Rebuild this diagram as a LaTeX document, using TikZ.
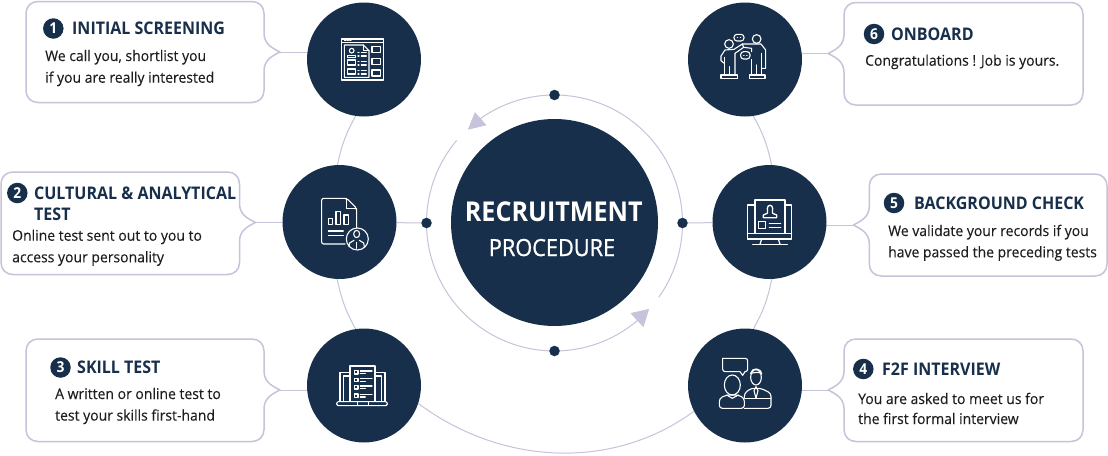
\documentclass[tikz,border=0pt]{standalone}
\usepackage{fontspec}
\setmainfont[FakeStretch=0.92]{Open Sans}
\newfontfamily\bodyf[FakeStretch=0.95,FakeBold=0.15]{Open Sans}
\newfontfamily\procf[FakeStretch=0.92,FakeBold=0.9]{Open Sans}
\usetikzlibrary{backgrounds,calc}
\definecolor{navy}{HTML}{182F4B}
\definecolor{lav}{HTML}{C6C3DA}
\definecolor{ink}{HTML}{1E1E1E}
\tikzset{
  disc/.style={circle,fill=navy,draw=none,inner sep=0pt,minimum size=#1},
  dotn/.style={circle,fill=navy,inner sep=0pt,minimum size=10.5pt},
  link/.style={draw=lav,line width=1pt},
  boxline/.style={draw=lav,line width=1.5pt,fill=white,line join=round},
  ico/.style={draw=white,line width=1.1pt,line join=round,line cap=round},
  icoscope/.style={shift={#1},x=0.3333pt,y=-0.3333pt,ico},
  badge/.style={circle,fill=navy,inner sep=0pt,minimum size=20.5pt,text=white,font=\fontsize{15}{15}\selectfont\bfseries},
  ttl/.style={anchor=base west,inner sep=0pt,text=navy,font=\fontsize{17.4}{17.4}\selectfont\bfseries},
  txt/.style={anchor=base west,inner sep=0pt,text=ink,font=\bodyf\fontsize{14.7}{14.7}\selectfont},
  tipshape/.style={fill=lav,draw=lav,line width=.5pt,line join=round}
}
\newcommand\calloutR[5]{%
  \draw[boxline] (#1+12,#2) -- (#3-12,#2) .. controls (#3-5,#2) and (#3,#2+5) .. (#3,#2+12) -- (#3,#5-19)
    .. controls (#3,#5-8) and (#3+8,#5-4) .. (#3+16,#5)
    .. controls (#3+8,#5+4) and (#3,#5+8) .. (#3,#5+19) -- (#3,#4-12)
    .. controls (#3,#4-5) and (#3-5,#4) .. (#3-12,#4) -- (#1+12,#4)
    .. controls (#1+5,#4) and (#1,#4-5) .. (#1,#4-12)
    -- (#1,#2+12) .. controls (#1,#2+5) and (#1+5,#2) .. cycle;}
\newcommand\calloutL[5]{%
  \draw[boxline] (#3-12,#2) -- (#1+12,#2) .. controls (#1+5,#2) and (#1,#2+5) .. (#1,#2+12) -- (#1,#5-19)
    .. controls (#1,#5-8) and (#1-8,#5-4) .. (#1-16,#5)
    .. controls (#1-8,#5+4) and (#1,#5+8) .. (#1,#5+19) -- (#1,#4-12)
    .. controls (#1,#4-5) and (#1+5,#4) .. (#1+12,#4) -- (#3-12,#4)
    .. controls (#3-5,#4) and (#3,#4-5) .. (#3,#4-12)
    -- (#3,#2+12) .. controls (#3,#2+5) and (#3-5,#2) .. cycle;}
\begin{document}
\begin{tikzpicture}[x=1pt,y=-1pt]
\useasboundingbox (0,0) rectangle (1108,455);
% discs
\node[disc=114pt] (c1) at (364,59.5) {};
\node[disc=114pt] (c2) at (339.5,222) {};
\node[disc=114pt] (c3) at (364,385.5) {};
\node[disc=114pt] (c4) at (745,385.5) {};
\node[disc=114pt] (c5) at (769.5,222) {};
\node[disc=114pt] (c6) at (745,59.5) {};
\node[disc=207pt] (ctr) at (554.5,222.5) {};
\coordinate (rc) at (554.5,223);
\node[dotn] (dt) at (554.5,95) {};
\node[dotn] (db) at (554.5,351) {};
\node[dotn] (dl) at (426.5,223) {};
\node[dotn] (dr) at (682.5,223) {};
% callout tips
\coordinate (t1) at (280,52);
\coordinate (t2) at (255.5,222.5);
\coordinate (t3) at (280,390);
\coordinate (t4) at (828,390);
\coordinate (t5) at (853.3,225);
\coordinate (t6) at (828,53.5);
\coordinate (ba) at (419,404);
\coordinate (bb) at (693,412);
% ends of the outer arcs, hidden under the discs
\coordinate (a1) at (356.7,114);
\coordinate (a2) at (336.8,168);
\coordinate (a3) at (336.8,277);
\coordinate (a4) at (356.7,331);
\coordinate (a5) at (752.3,114);
\coordinate (a6) at (772.2,168);
\coordinate (a7) at (772.2,277);
\coordinate (a8) at (752.3,331);
\begin{scope}[on background layer]
  \fill[white] (0,0) rectangle (1108,455);
  \draw[link] (a1) to[bend right=9] (a2);
  \draw[link] (a3) to[bend right=9] (a4);
  \draw[link] (a5) to[bend left=9] (a6);
  \draw[link] (a7) to[bend left=9] (a8);
  \draw[link] (c3) -- (ba) .. controls (503,466) and (613,470) .. (bb) -- (c4);
  \draw[link] (t1) -- (t1 -| c1);
  \draw[link] (t2) -- (t2 -| c2);
  \draw[link] (t3) -- (t3 -| c3);
  \draw[link] (t4) -- (t4 -| c4);
  \draw[link] (t5) -- (t5 -| c5);
  \draw[link] (t6) -- (t6 -| c6);
  \draw[link] (dl) -- (c2);
  \draw[link] (dr) -- (c5);
  \draw[link] ($(rc)+(220.1:128)$) arc[start angle=220.1,end angle=49.6,radius=128];
  \draw[link] ($(rc)+(234.6:128)$) arc[start angle=234.6,end angle=395.4,radius=128];
\end{scope}
% arrowheads
\fill[tipshape] (468.3,129.3) -- (475,112.7) -- (486,125) -- cycle;
\fill[tipshape] (648.7,309.3) -- (631,313.3) -- (643.3,326.7) -- cycle;
% centre text
\node[inner sep=0pt,text=white,anchor=base,font=\fontsize{27.3}{27.3}\selectfont\bfseries] (rt) at (553.8,221) {RECRUITMENT};
\node[inner sep=0pt,text=white,anchor=base,font=\procf\fontsize{23.6}{23.6}\selectfont] (pt) at (552,256) {PROCEDURE};
% callouts
\calloutR{26}{1.5}{264}{102.5}{52}
\calloutR{1}{172}{239.5}{274.5}{222.5}
\calloutR{26}{339}{264}{441.5}{390}
\calloutL{844}{339}{1083}{441.5}{390}
\calloutL{869.3}{174}{1107}{276}{225}
\calloutL{844}{2.5}{1083}{105}{53.5}
% texts
\node[badge] (b1) at (53.3,28.5) {1};
\node[ttl] (h1) at (72,34) {INITIAL SCREENING};
\node[txt] (a1t) at (45,61) {We call you, shortlist you};
\node[txt] (e1) at (45,82.7) {if you are really interested};
\node[badge] (b2) at (17.3,193) {2};
\node[ttl] (h2) at (34,199) {CULTURAL \& ANALYTICAL};
\node[ttl] (k2) at (34,220) {TEST};
\node[txt] (a2t) at (12,240.7) {Online test sent out to you to};
\node[txt] (e2) at (12,262.3) {access your personality};
\node[badge] (b3) at (60.5,367.5) {3};
\node[ttl] (h3) at (77,373) {SKILL TEST};
\node[txt] (a3t) at (55,399) {A written or online test to};
\node[txt] (e3) at (55,420.6) {test your skills first-hand};
\node[badge] (b4) at (863.3,369) {4};
\node[ttl] (h4) at (882,375.5) {F2F INTERVIEW};
\node[txt] (a4t) at (858,404) {You are asked to meet us for};
\node[txt] (e4) at (858,424) {the first formal interview};
\node[badge] (b5) at (894,203) {5};
\node[ttl] (h5) at (914,209) {BACKGROUND CHECK};
\node[txt] (a5t) at (888,236) {We validate your records if you};
\node[txt] (e5) at (888,257.3) {have passed the preceding tests};
\node[badge] (b6) at (874,34) {6};
\node[ttl] (h6) at (891,40) {ONBOARD};
\node[txt] (a6t) at (865,65.7) {Congratulations ! Job is yours.};
% icon 1
\begin{scope}[icoscope={(300,0)}]
  \draw (125,117) rectangle (250,240);
  \draw (125,128) -- (250,128);
  \draw (133,122.5) -- (137,122.5) (141,122.5) -- (145,122.5) (149,122.5) -- (153,122.5);
  \draw (133,135) -- (190,135) -- (207,152) -- (207,232) -- (133,232) -- cycle;
  \draw (190,135) -- (190,152) -- (207,152);
  \draw (155,152) circle[radius=7];
  \draw (143,172) -- (143,166) -- (167,166) -- (167,172) -- cycle;
  \draw (143,180) rectangle (167,195);
  \draw (143,207) rectangle (167,222);
  \foreach \yy in {157,168,185,195,212,222} {\draw (184,\yy) -- (199,\yy); \draw (174,\yy) -- (177,\yy);}
  \draw (216,140) rectangle (241,157);
  \draw (216,175) rectangle (241,193);
  \draw (216,210) rectangle (241,228);
\end{scope}
% icon 2
\begin{scope}[icoscope={(275,165)}]
  \draw[rounded corners=2pt] (210,237) -- (140,237) -- (140,100) -- (215,100) -- (245,130) -- (245,188);
  \draw (215,100) -- (215,130) -- (245,130);
  \draw (160,160) rectangle (172,178);
  \draw (183,140) rectangle (196,178);
  \draw (207,150) rectangle (220,178);
  \draw (160,198) -- (205,198) (160,212) -- (205,212);
  \draw (247,222) circle[radius=33];
  \draw (245,207) ellipse[x radius=9,y radius=11];
  \draw (222,245) -- (224,234) -- (237,226) (253,226) -- (266,234) -- (268,245);
  \draw (245,232) -- (245,250);
\end{scope}
% icon 3
\begin{scope}[icoscope={(300,330)}]
  \draw[rounded corners=1.5pt] (110,215) rectangle (262,227);
  \draw (172,215) -- (172,227) (205,215) -- (205,227);
  \draw (120,215) -- (120,128) -- (150,128) (225,128) -- (255,128) -- (255,215);
  \draw (130,215) -- (130,138) -- (150,138) (225,138) -- (245,138) -- (245,215);
  \draw (150,108) rectangle (225,215);
  \foreach \yy in {127,150,172,197} {
    \draw (163,\yy-5) rectangle (174,\yy+5);
    \draw (181,\yy-4) -- (216,\yy-4) (181,\yy+4) -- (196,\yy+4);}
\end{scope}
% icon 4
\begin{scope}[icoscope={(685,330)}]
  \draw[rounded corners=2.5pt] (113,85) -- (188,85) -- (188,125) -- (180,125);
  \draw (180,125) -- (173,136) -- (165,125);
  \draw[rounded corners=2.5pt] (165,125) -- (113,125) -- (113,85);
  \draw (142,165) ellipse[x radius=24,y radius=30];
  \draw[rounded corners=3pt] (103,235) -- (103,205) -- (125,195) -- (160,195) -- (178,205) -- (178,235) -- cycle;
  \draw (125,195) -- (142,205) -- (160,195);
  \draw (213,142) ellipse[x radius=16,y radius=23];
  \draw (197,130) .. controls (200,112) and (228,112) .. (230,132);
  \draw (197,130) .. controls (210,128) and (222,124) .. (230,132);
  \draw[rounded corners=3pt] (178,205) -- (178,190) -- (198,175) -- (228,175) -- (258,190) -- (258,235) -- (178,235);
  \draw (180,205) -- (258,205);
  \draw (213,170) -- (207,182) -- (213,205) -- (219,182) -- cycle;
\end{scope}
% icon 5
\begin{scope}[icoscope={(710,165)},line width=1.3pt]
  \draw (112,120) rectangle (245,222);
  \fill[navy] (135,105) rectangle (225,205);
  \draw (135,205) -- (135,105) -- (225,105) -- (225,205);
  \draw (112,205) -- (245,205);
  \draw (155,222) -- (150,238) (205,222) -- (210,238);
  \draw (128,238) -- (232,238);
  \draw (172,130) .. controls (172,118) and (188,118) .. (188,130) .. controls (188,138) and (186,142) .. (188,145) -- (200,150) -- (200,158) -- (160,158) -- (160,150) -- (172,145) .. controls (174,142) and (172,138) .. (172,130);
  \draw (145,170) rectangle (167,190);
  \draw (178,175) -- (212,175) (178,187) -- (212,187);
\end{scope}
% icon 6
\begin{scope}[icoscope={(685,0)}]
  \draw (132,132) circle[radius=13];
  \draw (215,117) circle[radius=13];
  \draw (118,190) -- (108,182) -- (108,168) -- (120,150) -- (147,148) -- (172,132) -- (228,132) -- (242,150) -- (242,205) -- (230,205);
  \draw (172,132) -- (176,142) -- (150,160) -- (150,225);
  \draw (118,225) -- (118,172);
  \draw (134,200) -- (134,225);
  \draw (108,225) rectangle (158,235);
  \draw (230,160) -- (230,225) (200,178) -- (200,225) (215,195) -- (215,225);
  \draw (176,142) -- (200,145) -- (200,155);
  \draw (193,225) rectangle (240,235);
  \draw[rounded corners=3pt,fill=navy] (147,103) rectangle (177,123);
  \draw (157,113) -- (158,113) (166,113) -- (167,113);
  \draw[rounded corners=3pt,fill=navy] (167,155) rectangle (195,177);
  \draw (176,166) -- (177,166) (185,166) -- (186,166);
\end{scope}
\end{tikzpicture}
\end{document}
